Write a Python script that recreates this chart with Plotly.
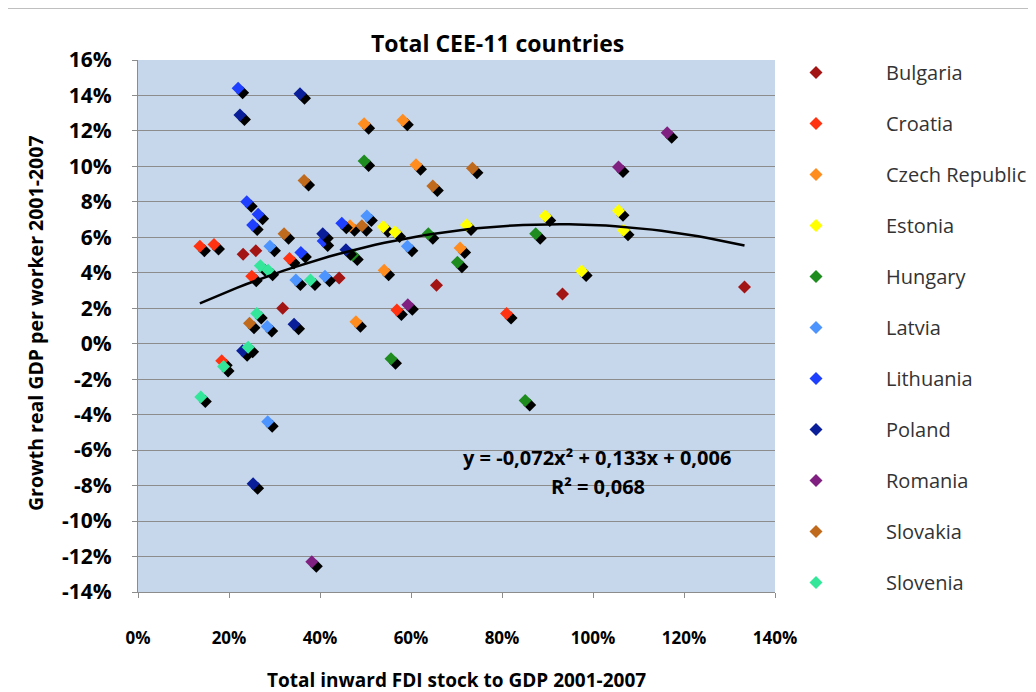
import plotly.graph_objects as go

# ---- data (percent units) ----
countries = ["Bulgaria", "Croatia", "Czech Republic", "Estonia", "Hungary", "Latvia",
             "Lithuania", "Poland", "Romania", "Slovakia", "Slovenia"]
colors = ["#A31515", "#FF3311", "#FF8C1F", "#FFFF00", "#1E8C1E", "#4D94FF",
          "#1F3FFF", "#0A1E99", "#802080", "#C06A1E", "#33E69A"]

bulgaria_x = [23.1, 25.9, 44.2, 31.8, 65.6, 93.3, 133.3]
bulgaria_y = [5.05, 5.25, 3.7, 2.0, 3.3, 2.8, 3.2]
croatia_x = [13.6, 16.7, 33.3, 25.0, 56.9, 81.0, 18.4]
croatia_y = [5.5, 5.6, 4.8, 3.8, 1.9, 1.7, -0.96]
czech_x = [49.7, 58.2, 61.1, 46.6, 70.8, 54.1, 47.9]
czech_y = [12.4, 12.6, 10.1, 6.65, 5.4, 4.15, 1.24]
estonia_x = [53.9, 56.5, 72.2, 89.5, 105.6, 106.7, 97.5]
estonia_y = [6.6, 6.3, 6.7, 7.2, 7.5, 6.4, 4.1]
hungary_x = [49.7, 47.2, 63.8, 70.2, 87.4, 55.6, 85.1]
hungary_y = [10.3, 5.0, 6.2, 4.6, 6.2, -0.85, -3.2]
latvia_x = [50.3, 29.0, 59.2, 34.7, 41.1, 28.4, 28.5]
latvia_y = [7.2, 5.5, 5.5, 3.6, 3.8, 0.97, -4.4]
lithuania_x = [22.0, 23.9, 26.4, 25.2, 44.8, 40.7, 35.8]
lithuania_y = [14.4, 8.0, 7.3, 6.7, 6.8, 5.8, 5.15]
poland_x = [22.4, 35.6, 40.6, 45.7, 34.3, 23.0, 25.3]
poland_y = [12.9, 14.1, 6.2, 5.3, 1.1, -0.4, -7.9]
romania_x = [116.3, 105.6, 59.3, 38.2]
romania_y = [11.9, 9.97, 2.2, -12.3]
slovakia_x = [36.5, 64.8, 49.2, 32.1, 24.5, 73.5]
slovakia_y = [9.2, 8.9, 6.65, 6.2, 1.15, 9.9]
slovenia_x = [26.9, 28.6, 37.9, 26.1, 24.2, 18.8, 13.8]
slovenia_y = [4.4, 4.15, 3.6, 1.7, -0.2, -1.28, -3.0]

xs = [bulgaria_x, croatia_x, czech_x, estonia_x, hungary_x, latvia_x,
      lithuania_x, poland_x, romania_x, slovakia_x, slovenia_x]
ys = [bulgaria_y, croatia_y, czech_y, estonia_y, hungary_y, latvia_y,
      lithuania_y, poland_y, romania_y, slovakia_y, slovenia_y]
has_shadow = [False] + [True] * 10

# trend line coefficients (as printed on chart)
coef_a, coef_b, coef_c = -0.072, 0.133, 0.006

x_ticks = [0, 20, 40, 60, 80, 100, 120, 140]
x_ticktext = ["0%", "20%", "40%", "60%", "80%", "100%", "120%", "140%"]
y_ticks = [16, 14, 12, 10, 8, 6, 4, 2, 0, -2, -4, -6, -8, -10, -12, -14]
y_ticktext = ["16%", "14%", "12%", "10%", "8%", "6%", "4%", "2%", "0%",
              "-2%", "-4%", "-6%", "-8%", "-10%", "-12%", "-14%"]

FONT = "Open Sans"
OFF = 8  # page body margin offset
W, H = 1036, 692
L, T = 138 - OFF, 60 - OFF
R = W - (775 - OFF)
B = H - (592 - OFF)
pw, ph = W - L - R, H - T - B
xrange_ = [0, 140]
yrange_ = [-14, 16]
sdx = 4.5 * (xrange_[1] - xrange_[0]) / pw
sdy = 4.5 * (yrange_[1] - yrange_[0]) / ph


def px(xr):  # reference pixel x -> paper
    return (xr - OFF - L) / pw


def py(yr):  # reference pixel y -> paper
    return (H - B - (yr - OFF)) / ph


fig = go.Figure()
for name, col, xv, yv, sh in zip(countries, colors, xs, ys, has_shadow):
    if sh:
        fig.add_trace(go.Scatter(
            x=[v + sdx for v in xv], y=[v - sdy for v in yv], mode="markers",
            marker=dict(symbol="diamond", size=10, color="#000000", line=dict(width=0)),
            showlegend=False, hoverinfo="skip", legendgroup=name))
    fig.add_trace(go.Scatter(
        x=xv, y=yv, mode="markers", name=name, legendgroup=name,
        marker=dict(symbol="diamond", size=10, color=col, line=dict(width=0))))

all_x = [v for xv in xs for v in xv]
n = 60
x0, x1 = min(all_x), max(all_x)
tx = [x0 + (x1 - x0) * i / (n - 1) for i in range(n)]
ty = [100 * (coef_a * (v / 100) ** 2 + coef_b * (v / 100) + coef_c) for v in tx]
fig.add_trace(go.Scatter(x=tx, y=ty, mode="lines", line=dict(color="#000000", width=2.5),
                         showlegend=False, hoverinfo="skip"))

fig.update_layout(
    width=W, height=H, margin=dict(l=L, r=R, t=T, b=B, autoexpand=False),
    paper_bgcolor="white", plot_bgcolor="#C6D7EC",
    font=dict(family=FONT, color="#000000"),
    showlegend=True,
    legend=dict(xref="container", yref="container", x=(746 - OFF) / W, xanchor="left",
                y=1 - (53 - OFF) / H, yanchor="top", maxheight=680,
                font=dict(family=FONT, size=20, color="#333333"),
                itemwidth=130, tracegroupgap=22, bgcolor="rgba(0,0,0,0)"),
)
fig.update_xaxes(range=xrange_, tickvals=x_ticks, ticktext=x_ticktext, automargin=False,
                 showgrid=False, zeroline=False, showline=True, linecolor="#8C8C8C",
                 linewidth=1, ticks="outside", ticklen=5, tickcolor="#8C8C8C",
                 ticklabelstandoff=26,
                 tickfont=dict(family=FONT, size=17, color="#000000", weight="bold"))
fig.update_yaxes(range=yrange_, tickvals=y_ticks, ticktext=y_ticktext, automargin=False,
                 showgrid=True, gridcolor="#8C8C8C", gridwidth=1, zeroline=False,
                 showline=True, linecolor="#8C8C8C", linewidth=1,
                 ticks="outside", ticklen=5, tickcolor="#8C8C8C", ticklabelstandoff=16,
                 tickfont=dict(family=FONT, size=21, color="#000000", weight="bold"))

common = dict(xref="paper", yref="paper", showarrow=False, xanchor="center", yanchor="middle")
anns = [
    dict(text="<b>Total CEE-11 countries</b>", x=px(497), y=py(43),
         font=dict(size=23, family=FONT), **common),
    dict(text="<b>Total inward FDI stock to GDP 2001-2007</b>", x=px(456), y=py(680),
         font=dict(size=19, family=FONT), **common),
    dict(text="<b>Growth real GDP per worker 2001-2007</b>", x=px(35), y=py(323),
         textangle=-90, font=dict(size=19.5, family=FONT), **common),
    dict(text="<b>y = -0,072x² + 0,133x + 0,006</b>", x=px(597), y=py(457),
         font=dict(size=20, family=FONT), **common),
    dict(text="<b>R² = 0,068</b>", x=px(598), y=py(486),
         font=dict(size=20, family=FONT), **common),
]
fig.update_layout(annotations=anns)
fig.add_shape(type="line", xref="paper", yref="paper", x0=px(6), x1=px(1050),
              y0=py(8), y1=py(8), line=dict(color="#BFBFBF", width=2))
fig.add_shape(type="line", xref="paper", yref="paper", x0=px(6), x1=px(6),
              y0=py(8), y1=py(710), line=dict(color="#D0D0D0", width=1.5))

fig.write_html("out.html")
